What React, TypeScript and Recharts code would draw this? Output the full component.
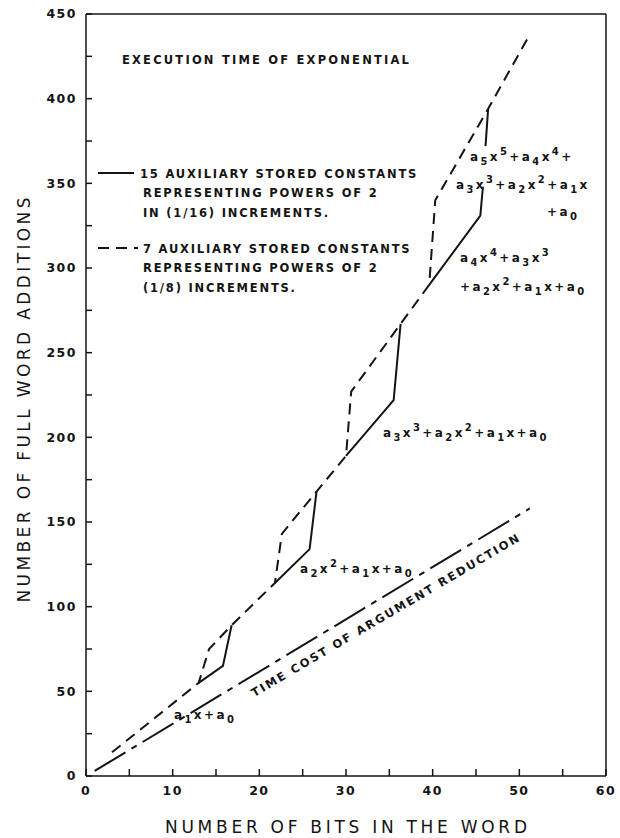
import React from "react";
import { LineChart, Line, XAxis, YAxis, Legend, Label, Customized } from "recharts";

// axis ticks
const bitTicks = [0, 5, 10, 15, 20, 25, 30, 35, 40, 45, 50, 55, 60];
const addTicks = [0, 25, 50, 75, 100, 125, 150, 175, 200, 225, 250, 275, 300, 325, 350, 375, 400, 425, 450];

// 7 auxiliary constants (dashed path, covers every stage)
const sevenBits = [3, 13, 14.2, 16.8, 21.8, 22.6, 26.6, 30, 30.6, 36.3, 39.6, 40.3, 46.4, 51];
const sevenAdds = [14, 55, 75, 89, 114, 143, 168, 189, 227, 267, 290, 340, 394, 436];

// 15 auxiliary constants (solid, only where it departs from the dashed path)
const fifteenBits = [13, 15.8, 16.8, 16.8, 21.8, 25.8, 26.6, 26.6, 30, 35.5, 36.3, 36.3, 39.6, 45.5, 45.8, 46, 46.1, 46.4];
const fifteenAdds = [55, 65, 89, null, 114, 134, 168, null, 189, 222, 267, null, 290, 331, 348, null, 372, 394];

// time cost of argument reduction
const reductionBits = [1, 51.2];
const reductionAdds = [3, 158];

const legendText: Record<string, string[]> = {
  fifteen: ["15 AUXILIARY STORED CONSTANTS", "REPRESENTING POWERS OF 2", "IN (1/16) INCREMENTS."],
  seven: ["7 AUXILIARY STORED CONSTANTS", "REPRESENTING POWERS OF 2", "(1/8) INCREMENTS."],
};

const polyNotes = [
  { expr: "a_5x^5+a_4x^4+", x: 470, y: 161 },
  { expr: "a_3x^3+a_2x^2+a_1x", x: 456, y: 189 },
  { expr: "+a_0", x: 547, y: 216 },
  { expr: "a_4x^4+a_3x^3", x: 460, y: 262 },
  { expr: "+a_2x^2+a_1x+a_0", x: 460, y: 291 },
  { expr: "a_3x^3+a_2x^2+a_1x+a_0", x: 383, y: 437 },
  { expr: "a_2x^2+a_1x+a_0", x: 300, y: 573 },
  { expr: "a_1x+a_0", x: 174, y: 719 },
];

const zip = (xs: number[], ys: (number | null)[]) => xs.map((bits, i) => ({ bits, adds: ys[i] }));

const INK = "#141414";
const FONT = "'DejaVu Sans', sans-serif";

function Poly({ expr, x, y }: { expr: string; x: number; y: number }) {
  const parts: React.ReactNode[] = [];
  const re = /([_^])(\d)|([^_^]+)/g;
  let shift = 0;
  let m: RegExpExecArray | null;
  let k = 0;
  while ((m = re.exec(expr))) {
    if (m[1]) {
      const target = m[1] === "_" ? 4 : -6;
      parts.push(
        <tspan key={k++} dy={target - shift} fontSize={10}>
          {m[2]}
        </tspan>
      );
      shift = target;
    } else {
      parts.push(
        <tspan key={k++} dy={-shift}>
          {m[3]}
        </tspan>
      );
      shift = 0;
    }
  }
  return (
    <text
      x={x}
      y={y}
      fill={INK}
      fontFamily={FONT}
      fontWeight="bold"
      fontSize={12}
      letterSpacing={2.4}
      stroke="#fff"
      strokeWidth={4}
      paintOrder="stroke"
    >
      {parts}
    </text>
  );
}

function Notes() {
  return (
    <g>
      <text x={122} y={64} fill={INK} fontFamily={FONT} fontWeight="bold" fontSize={11.5} letterSpacing={2.2}>
        EXECUTION TIME OF EXPONENTIAL
      </text>
      {polyNotes.map((p) => (
        <Poly key={p.expr + p.y} {...p} />
      ))}
      <text
        x={386}
        y={619}
        transform="rotate(-30.5 386 615)"
        textAnchor="middle"
        fill={INK}
        fontFamily={FONT}
        fontWeight="bold"
        fontSize={11.5}
        letterSpacing={2}
      >
        TIME COST OF ARGUMENT REDUCTION
      </text>
    </g>
  );
}

function SeriesLegend({ payload }: any) {
  const items = (payload || []).filter((p: any) => legendText[p.value]);
  return (
    <svg width={340} height={140} style={{ display: "block" }}>
      {items.map((p: any, i: number) => {
        const top = 13 + i * 75;
        return (
          <g key={p.value}>
            <line
              x1={2}
              x2={i === 0 ? 38 : 42}
              y1={top}
              y2={top}
              stroke={INK}
              strokeWidth={2}
              strokeDasharray={p.payload?.strokeDasharray}
            />
            {legendText[p.value].map((row, r) => (
              <text
                key={row}
                x={i === 0 && r === 0 ? 44 : 47}
                y={top + 4.5 + r * 19.5}
                fill={INK}
                fontFamily={FONT}
                fontWeight="bold"
                fontSize={11.5}
                letterSpacing={1.8}
              >
                {row}
              </text>
            ))}
          </g>
        );
      })}
    </svg>
  );
}

const tickStyle = { fill: INK, fontSize: 12.5, fontFamily: FONT, fontWeight: "bold", letterSpacing: 1.5 };

export default function App() {
  return (
    <div style={{ position: "absolute", left: 0, top: 0, width: 620, height: 838, background: "#fff" }}>
      <LineChart width={620} height={838} margin={{ top: 13, right: 13, bottom: 0, left: 0 }}>
        <XAxis
          xAxisId="b"
          dataKey="bits"
          type="number"
          domain={[0, 60]}
          ticks={bitTicks}
          interval={0}
          height={62}
          stroke={INK}
          strokeWidth={1.5}
          tickSize={-7}
          tickMargin={17}
          tick={tickStyle}
          tickFormatter={(v: number) => (v % 10 === 0 ? String(v) : "")}
        >
          <Label
            content={({ viewBox }: any) => (
              <text
                x={viewBox.x + viewBox.width / 2}
                y={viewBox.y + 57}
                textAnchor="middle"
                fill={INK}
                fontFamily={FONT}
                fontSize={17}
                textLength={362}
                lengthAdjust="spacing"
              >
                NUMBER OF BITS IN THE WORD
              </text>
            )}
          />
        </XAxis>
        <XAxis
          xAxisId="t"
          orientation="top"
          dataKey="bits"
          type="number"
          domain={[0, 60]}
          ticks={bitTicks}
          interval={0}
          height={1}
          stroke={INK}
          strokeWidth={1.5}
          tickSize={-7}
          tickFormatter={() => ""}
        />
        <YAxis
          yAxisId="l"
          type="number"
          domain={[0, 450]}
          ticks={addTicks}
          interval={0}
          width={86}
          stroke={INK}
          strokeWidth={1.5}
          tickSize={-6}
          tickMargin={15}
          tick={tickStyle}
          tickFormatter={(v: number) => (v % 50 === 0 ? String(v) : "")}
        >
          <Label
            content={({ viewBox }: any) => {
              const cy = viewBox.y + viewBox.height / 2 + 5;
              return (
                <text
                  x={24}
                  y={cy}
                  transform={`rotate(-90 24 ${cy})`}
                  dy={6}
                  textAnchor="middle"
                  fill={INK}
                  fontFamily={FONT}
                  fontSize={17}
                  textLength={405}
                  lengthAdjust="spacing"
                >
                  NUMBER OF FULL WORD ADDITIONS
                </text>
              );
            }}
          />
        </YAxis>
        <YAxis
          yAxisId="r"
          orientation="right"
          type="number"
          domain={[0, 450]}
          ticks={addTicks}
          interval={0}
          width={1}
          stroke={INK}
          strokeWidth={1.5}
          tickSize={-6}
          tickFormatter={() => ""}
        />
        <Line
          xAxisId="b"
          yAxisId="l"
          name="fifteen"
          data={zip(fifteenBits, fifteenAdds)}
          dataKey="adds"
          type="linear"
          stroke={INK}
          strokeWidth={2}
          dot={false}
          activeDot={false}
          connectNulls={false}
          isAnimationActive={false}
        />
        <Line
          xAxisId="b"
          yAxisId="l"
          name="seven"
          data={zip(sevenBits, sevenAdds)}
          dataKey="adds"
          type="linear"
          stroke={INK}
          strokeWidth={2}
          strokeDasharray="11 7"
          dot={false}
          activeDot={false}
          isAnimationActive={false}
        />
        <Line
          xAxisId="b"
          yAxisId="l"
          name="reduction"
          legendType="none"
          data={zip(reductionBits, reductionAdds)}
          dataKey="adds"
          type="linear"
          stroke={INK}
          strokeWidth={2}
          strokeDasharray="36 7 6 7"
          dot={false}
          activeDot={false}
          isAnimationActive={false}
        />
        <Legend
          verticalAlign="middle"
          content={<SeriesLegend />}
          wrapperStyle={{ left: 96, top: 160, width: 340 }}
        />
        <Customized component={Notes} />
      </LineChart>
    </div>
  );
}
